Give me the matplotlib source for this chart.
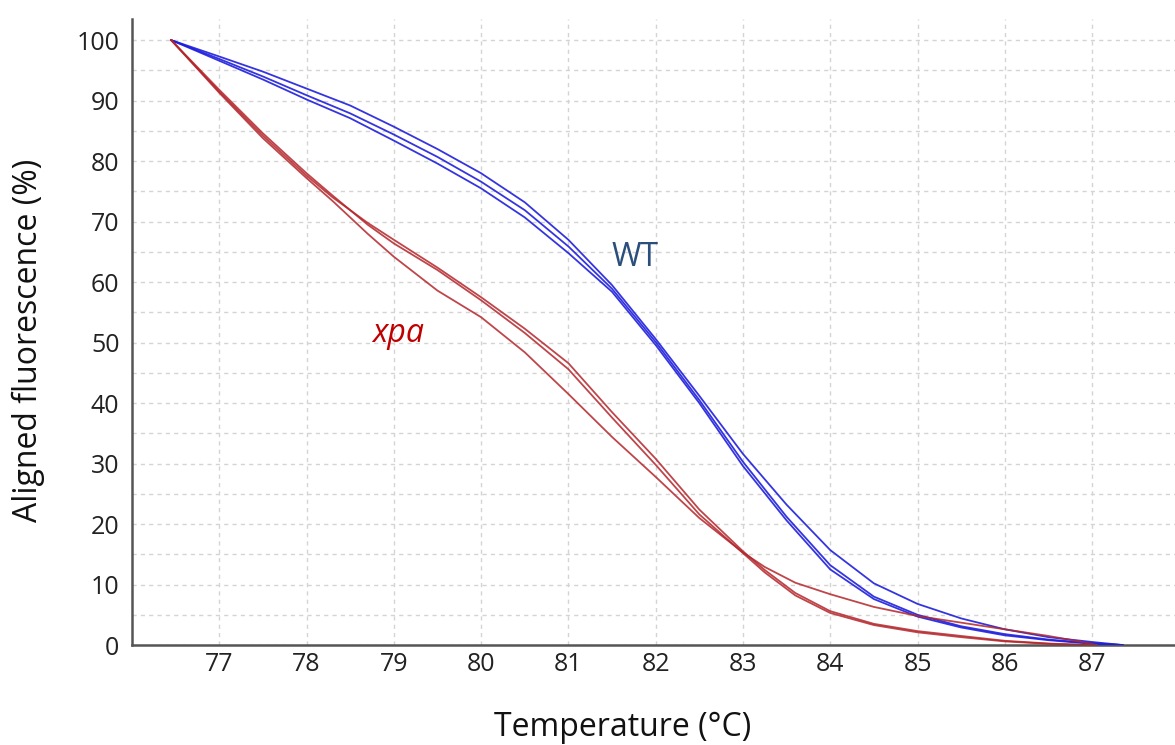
import matplotlib.pyplot as plt
from matplotlib.ticker import MultipleLocator

plt.rcParams['font.family'] = ['Open Sans', 'DejaVu Sans']

wt_temp = [76.45, 77, 77.5, 78, 78.5, 79, 79.5, 80, 80.5, 81, 81.5, 82,
           82.5, 83, 83.5, 84, 84.5, 85, 85.5, 86, 86.5, 87, 87.35]
xpa_temp = [76.45, 77, 77.5, 78, 78.3, 78.7, 79, 79.5, 80, 80.5, 81, 81.5, 82,
            82.5, 83, 83.25, 83.6, 84, 84.5, 85, 85.5, 86, 86.5, 86.85, 87.05]

# aligned fluorescence (%), three replicates each
wt_a = [100, 97.3, 94.8, 92.0, 89.2, 85.7, 82.0, 78.0, 73.2, 67.0, 59.5, 50.6,
        41.2, 31.6, 23.2, 15.7, 10.2, 6.8, 4.4, 2.6, 1.3, 0.5, 0]
wt_b = [100, 96.9, 94.0, 90.9, 87.9, 84.4, 80.7, 76.6, 71.9, 65.9, 58.9, 50.1,
        40.5, 30.3, 21.2, 13.2, 8.0, 5.0, 3.1, 1.8, 0.9, 0.3, 0]
wt_c = [100, 96.6, 93.5, 90.2, 87.1, 83.4, 79.6, 75.5, 70.7, 64.8, 58.4, 49.6,
        40.0, 29.6, 20.6, 12.5, 7.6, 4.7, 2.9, 1.6, 0.8, 0.2, 0]

xpa_a = [100, 91.5, 84.2, 77.6, 74.0, 69.8, 67.0, 62.4, 57.5, 52.3, 46.6, 38.5,
         30.8, 22.4, 15.5, 12.4, 8.6, 5.6, 3.5, 2.3, 1.5, 0.7, 0.25, 0.05, 0]
xpa_b = [100, 91.8, 84.6, 78.0, 74.3, 69.5, 66.4, 62.0, 57.0, 51.6, 45.6, 37.6,
         29.8, 21.6, 15.2, 12.0, 8.2, 5.3, 3.3, 2.1, 1.3, 0.6, 0.2, 0.05, 0]
xpa_c = [100, 91.3, 83.8, 77.2, 73.4, 68.0, 64.2, 58.6, 54.2, 48.4, 41.5, 34.4,
         27.8, 21.0, 15.3, 12.9, 10.3, 8.4, 6.3, 4.8, 3.7, 2.6, 1.5, 0.6, 0]

x_ticks = list(range(77, 88))
y_ticks = list(range(0, 101, 10))

fig = plt.figure(figsize=(11.75, 7.45), dpi=100)
ax = fig.add_axes([0.1123, 0.1342, 0.8877, 0.8403])

blue = '#1f1fdc'
red = '#b3262b'
for y in (wt_a, wt_b, wt_c):
    ax.plot(wt_temp, y, color=blue, lw=1.3, alpha=0.9, zorder=3)
for y in (xpa_a, xpa_b, xpa_c):
    ax.plot(xpa_temp, y, color=red, lw=1.3, alpha=0.85, zorder=3)

ax.set_xlim(76.0, 87.95)
ax.set_ylim(0, 103.5)
ax.set_xticks(x_ticks)
ax.set_yticks(y_ticks)
ax.yaxis.set_minor_locator(MultipleLocator(5))
ax.tick_params(axis='both', which='both', length=0, labelsize=18, colors='#222222')
ax.tick_params(axis='x', pad=5)
ax.tick_params(axis='y', pad=9)

ax.grid(True, which='both', color='#d4d4d4', lw=1, linestyle=(0, (3, 3)))
ax.set_axisbelow(True)

for s in ('top', 'right'):
    ax.spines[s].set_visible(False)
for s in ('left', 'bottom'):
    ax.spines[s].set_color('#555555')
    ax.spines[s].set_linewidth(1.8)

ax.set_xlabel('Temperature (°C)', fontsize=23, color='#111111')
ax.set_ylabel('Aligned fluorescence (%)', fontsize=23, color='#111111')
ax.xaxis.set_label_coords(0.47, -0.105)
ax.yaxis.set_label_coords(-0.083, 0.487)

ax.text(81.5, 64.0, 'WT', fontsize=23, color='#2b4f7c', ha='left', va='center')
ax.text(78.75, 51.5, 'xpa', fontsize=23, color='#c00000', style='italic',
        ha='left', va='center')

fig.savefig('out.png', dpi=100)
